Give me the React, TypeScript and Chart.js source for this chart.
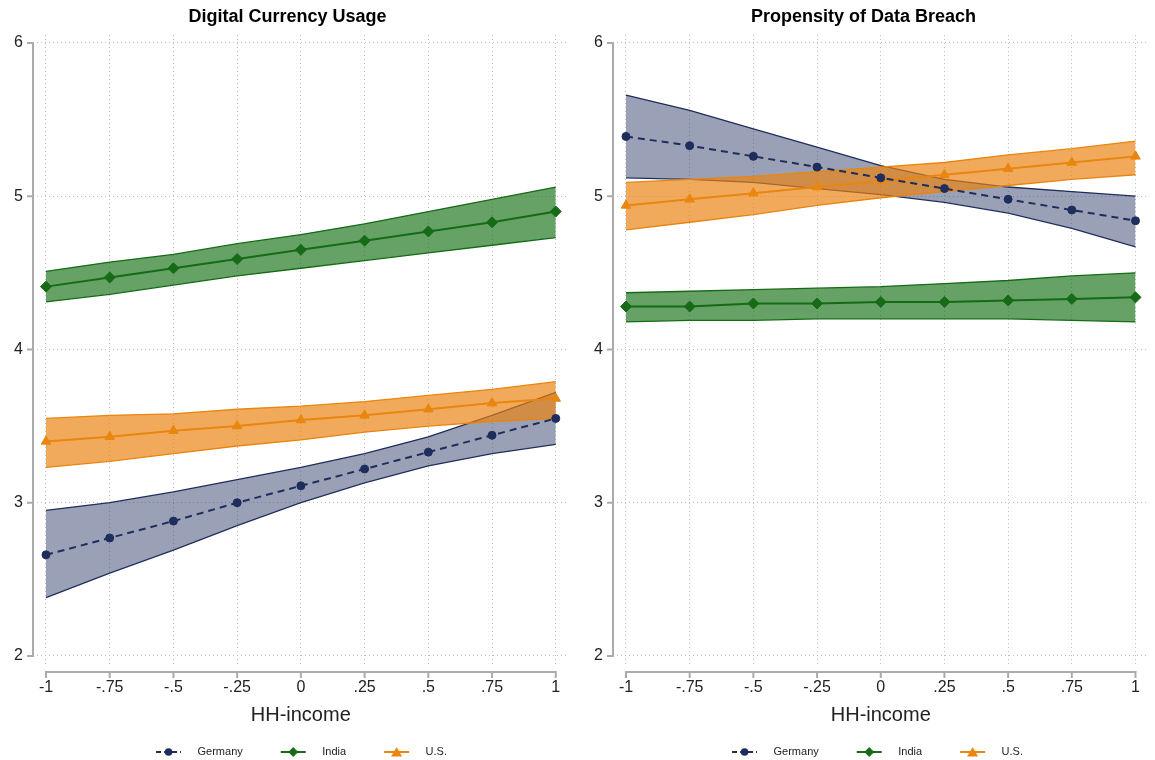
import React, { useEffect, useRef } from 'react';
import { Chart, registerables } from 'chart.js';

Chart.register(...registerables);

const FONT = "'Liberation Sans', Arial, Helvetica, sans-serif";

// ---- data ----
const xValues = [-1, -0.75, -0.5, -0.25, 0, 0.25, 0.5, 0.75, 1];
const xTickLabels = ['-1', '-.75', '-.5', '-.25', '0', '.25', '.5', '.75', '1'];
const yTicks = [2, 3, 4, 5, 6];
const seriesNames = ['Germany', 'India', 'U.S.'];
const panelTitles = ['Digital Currency Usage', 'Propensity of Data Breach'];
const xAxisTitle = 'HH-income';

// Digital Currency Usage
const dcuGermany = [2.66, 2.77, 2.88, 3.0, 3.11, 3.22, 3.33, 3.44, 3.55];
const dcuGermanyHi = [2.95, 3.0, 3.07, 3.15, 3.23, 3.32, 3.43, 3.57, 3.72];
const dcuGermanyLo = [2.38, 2.54, 2.69, 2.85, 3.0, 3.13, 3.24, 3.32, 3.38];
const dcuIndia = [4.41, 4.47, 4.53, 4.59, 4.65, 4.71, 4.77, 4.83, 4.9];
const dcuIndiaHi = [4.51, 4.57, 4.62, 4.69, 4.75, 4.82, 4.9, 4.98, 5.06];
const dcuIndiaLo = [4.31, 4.36, 4.42, 4.48, 4.53, 4.58, 4.63, 4.68, 4.73];
const dcuUS = [3.4, 3.43, 3.47, 3.5, 3.54, 3.57, 3.61, 3.65, 3.68];
const dcuUSHi = [3.55, 3.57, 3.58, 3.61, 3.63, 3.66, 3.7, 3.74, 3.79];
const dcuUSLo = [3.23, 3.27, 3.32, 3.37, 3.41, 3.46, 3.5, 3.53, 3.55];

// Propensity of Data Breach
const pdbGermany = [5.39, 5.33, 5.26, 5.19, 5.12, 5.05, 4.98, 4.91, 4.84];
const pdbGermanyHi = [5.66, 5.56, 5.44, 5.32, 5.2, 5.11, 5.06, 5.03, 5.0];
const pdbGermanyLo = [5.12, 5.11, 5.09, 5.05, 5.01, 4.96, 4.89, 4.79, 4.67];
const pdbIndia = [4.28, 4.28, 4.3, 4.3, 4.31, 4.31, 4.32, 4.33, 4.34];
const pdbIndiaHi = [4.37, 4.38, 4.39, 4.4, 4.41, 4.43, 4.45, 4.48, 4.5];
const pdbIndiaLo = [4.18, 4.19, 4.19, 4.2, 4.2, 4.2, 4.2, 4.19, 4.18];
const pdbUS = [4.94, 4.98, 5.02, 5.06, 5.1, 5.14, 5.18, 5.22, 5.26];
const pdbUSHi = [5.09, 5.11, 5.13, 5.16, 5.19, 5.22, 5.27, 5.31, 5.36];
const pdbUSLo = [4.78, 4.83, 4.88, 4.94, 4.99, 5.03, 5.07, 5.11, 5.14];

// ---- styles ----
const lineColors = ['#1f2d5c', '#166b16', '#e8860f'];
const bandColors = ['rgba(40,55,100,0.47)', 'rgba(20,110,20,0.65)', 'rgba(235,130,15,0.68)'];
const pointStyles = ['circle', 'rectRot', 'triangle'];
const pointRadii = [4, 5.5, 5.5];
const dashes = [[7, 5], [], []];

const xy = (vals: number[]) => vals.map((v, i) => ({ x: xValues[i], y: v }));

function legendImage(k: number): HTMLCanvasElement {
  const c = document.createElement('canvas');
  c.width = 64;
  c.height = 14;
  const g = c.getContext('2d')!;
  g.strokeStyle = lineColors[k];
  g.fillStyle = lineColors[k];
  g.lineWidth = 2;
  g.setLineDash(dashes[k].length ? [5, 3] : []);
  g.beginPath();
  g.moveTo(28, 7);
  g.lineTo(53, 7);
  g.stroke();
  g.setLineDash([]);
  const cx = 40.5;
  g.beginPath();
  if (k === 0) {
    g.arc(cx, 7, 3.8, 0, Math.PI * 2);
  } else if (k === 1) {
    g.moveTo(cx, 2);
    g.lineTo(cx + 5, 7);
    g.lineTo(cx, 12);
    g.lineTo(cx - 5, 7);
    g.closePath();
  } else {
    g.moveTo(cx, 2);
    g.lineTo(cx + 5.5, 11.5);
    g.lineTo(cx - 5.5, 11.5);
    g.closePath();
  }
  g.fill();
  return c;
}

const axesPlugin = {
  id: 'stataAxes',
  afterDraw(chart: any) {
    const { ctx, chartArea, scales } = chart;
    const x = scales.x;
    const y = scales.y;
    ctx.save();
    ctx.strokeStyle = '#ababab';
    ctx.lineWidth = 2;
    ctx.beginPath();
    const yTop = y.getPixelForValue(yTicks[yTicks.length - 1]);
    const yBot = y.getPixelForValue(yTicks[0]);
    ctx.moveTo(chartArea.left, yTop - 1);
    ctx.lineTo(chartArea.left, yBot + 1);
    yTicks.forEach((v) => {
      const p = y.getPixelForValue(v);
      ctx.moveTo(chartArea.left - 6, p);
      ctx.lineTo(chartArea.left, p);
    });
    const ay = chartArea.bottom + 7;
    ctx.moveTo(x.getPixelForValue(xValues[0]) - 1, ay);
    ctx.lineTo(x.getPixelForValue(xValues[xValues.length - 1]) + 1, ay);
    xValues.forEach((v) => {
      const p = x.getPixelForValue(v);
      ctx.moveTo(p, ay);
      ctx.lineTo(p, ay + 6);
    });
    ctx.stroke();
    ctx.restore();
  },
};

type PanelProps = {
  left: number;
  width: number;
  title: string;
  xMin: number;
  xMax: number;
  yWidth: number;
  padRight: number;
  mains: number[][];
  his: number[][];
  los: number[][];
};

function PanelChart(props: PanelProps) {
  const ref = useRef<HTMLCanvasElement | null>(null);
  useEffect(() => {
    if (!ref.current) return;
    const imgs = [0, 1, 2].map((k) => legendImage(k));
    const datasets: any[] = [];
    [0, 1, 2].forEach((k) => {
      datasets.push({
        label: seriesNames[k],
        data: xy(props.mains[k]),
        borderColor: lineColors[k],
        backgroundColor: lineColors[k],
        borderWidth: 2,
        borderDash: dashes[k],
        pointStyle: pointStyles[k],
        pointRadius: pointRadii[k],
        pointBackgroundColor: lineColors[k],
        pointBorderColor: lineColors[k],
        pointBorderWidth: 1,
        fill: false,
        tension: 0,
        order: k,
      });
    });
    // bands: US on top of India on top of Germany
    [2, 1, 0].forEach((k, j) => {
      datasets.push({
        label: seriesNames[k] + ' hi',
        data: xy(props.his[k]),
        borderColor: lineColors[k],
        borderWidth: 1.3,
        backgroundColor: bandColors[k],
        pointRadius: 0,
        fill: '+1',
        tension: 0,
        order: 10 + j,
      });
      datasets.push({
        label: seriesNames[k] + ' lo',
        data: xy(props.los[k]),
        borderColor: lineColors[k],
        borderWidth: 1.3,
        backgroundColor: bandColors[k],
        pointRadius: 0,
        fill: false,
        tension: 0,
        order: 10 + j,
      });
    });

    const chart = new Chart(ref.current, {
      type: 'line',
      data: { datasets },
      plugins: [axesPlugin],
      options: {
        animation: false,
        responsive: false,
        devicePixelRatio: 1,
        layout: { padding: { left: 0, right: props.padRight, top: 0, bottom: -7.5 } },
        plugins: {
          tooltip: { enabled: false },
          title: {
            display: true,
            text: props.title,
            color: '#000',
            font: { family: FONT, size: 18, weight: 'bold', lineHeight: 1.2 },
            padding: { top: 6, bottom: 7.4 },
          },
          legend: {
            display: true,
            position: 'bottom',
            labels: {
              usePointStyle: true,
              pointStyleWidth: 64,
              padding: 10,
              color: '#222',
              font: { family: FONT, size: 11 },
              generateLabels: () =>
                [0, 1, 2].map((k) => ({
                  text: seriesNames[k],
                  pointStyle: imgs[k],
                  fillStyle: 'rgba(0,0,0,0)',
                  strokeStyle: 'rgba(0,0,0,0)',
                  lineWidth: 0,
                  hidden: false,
                  datasetIndex: k,
                  fontColor: '#222',
                })),
            },
          },
        },
        scales: {
          x: {
            type: 'linear',
            min: props.xMin,
            max: props.xMax,
            afterBuildTicks: (s: any) => {
              s.ticks = xValues.map((v) => ({ value: v }));
            },
            afterFit: (s: any) => {
              s.height = 71.5;
            },
            ticks: {
              autoSkip: false,
              maxRotation: 0,
              padding: 13.4,
              color: '#222',
              font: { family: FONT, size: 16 },
              callback: (v: any) => {
                const i = xValues.indexOf(Number(v));
                return i >= 0 ? xTickLabels[i] : '';
              },
            },
            grid: { drawTicks: false, color: '#bdbdbd', lineWidth: 1 },
            border: { display: false, dash: [1, 3] },
            title: {
              display: true,
              text: xAxisTitle,
              color: '#222',
              font: { family: FONT, size: 20, lineHeight: 1.2 },
              padding: { top: 0, bottom: 9.5 },
            },
          },
          y: {
            type: 'linear',
            min: 1.941,
            max: 6.052,
            afterBuildTicks: (s: any) => {
              s.ticks = yTicks.map((v) => ({ value: v }));
            },
            afterFit: (s: any) => {
              s.width = props.yWidth;
            },
            ticks: {
              padding: 10,
              color: '#222',
              font: { family: FONT, size: 16 },
              callback: (v: any) => String(v),
            },
            grid: { drawTicks: false, color: '#bdbdbd', lineWidth: 1 },
            border: { display: false, dash: [1, 3] },
          },
        },
      } as any,
    });
    return () => chart.destroy();
  }, []);
  return (
    <canvas
      ref={ref}
      width={props.width}
      height={760}
      style={{ position: 'absolute', left: props.left, top: 0, width: props.width, height: 760 }}
    />
  );
}

export default function App() {
  return (
    <div style={{ position: 'fixed', left: 0, top: 0, width: 1155, height: 760, background: '#fff' }}>
      <PanelChart
        left={0}
        width={575}
        title={panelTitles[0]}
        xMin={-1.051}
        xMax={1.05}
        yWidth={33}
        padRight={0}
        mains={[dcuGermany, dcuIndia, dcuUS]}
        his={[dcuGermanyHi, dcuIndiaHi, dcuUSHi]}
        los={[dcuGermanyLo, dcuIndiaLo, dcuUSLo]}
      />
      <PanelChart
        left={577}
        width={578}
        title={panelTitles[1]}
        xMin={-1.051}
        xMax={1.051}
        yWidth={36}
        padRight={5}
        mains={[pdbGermany, pdbIndia, pdbUS]}
        his={[pdbGermanyHi, pdbIndiaHi, pdbUSHi]}
        los={[pdbGermanyLo, pdbIndiaLo, pdbUSLo]}
      />
    </div>
  );
}
